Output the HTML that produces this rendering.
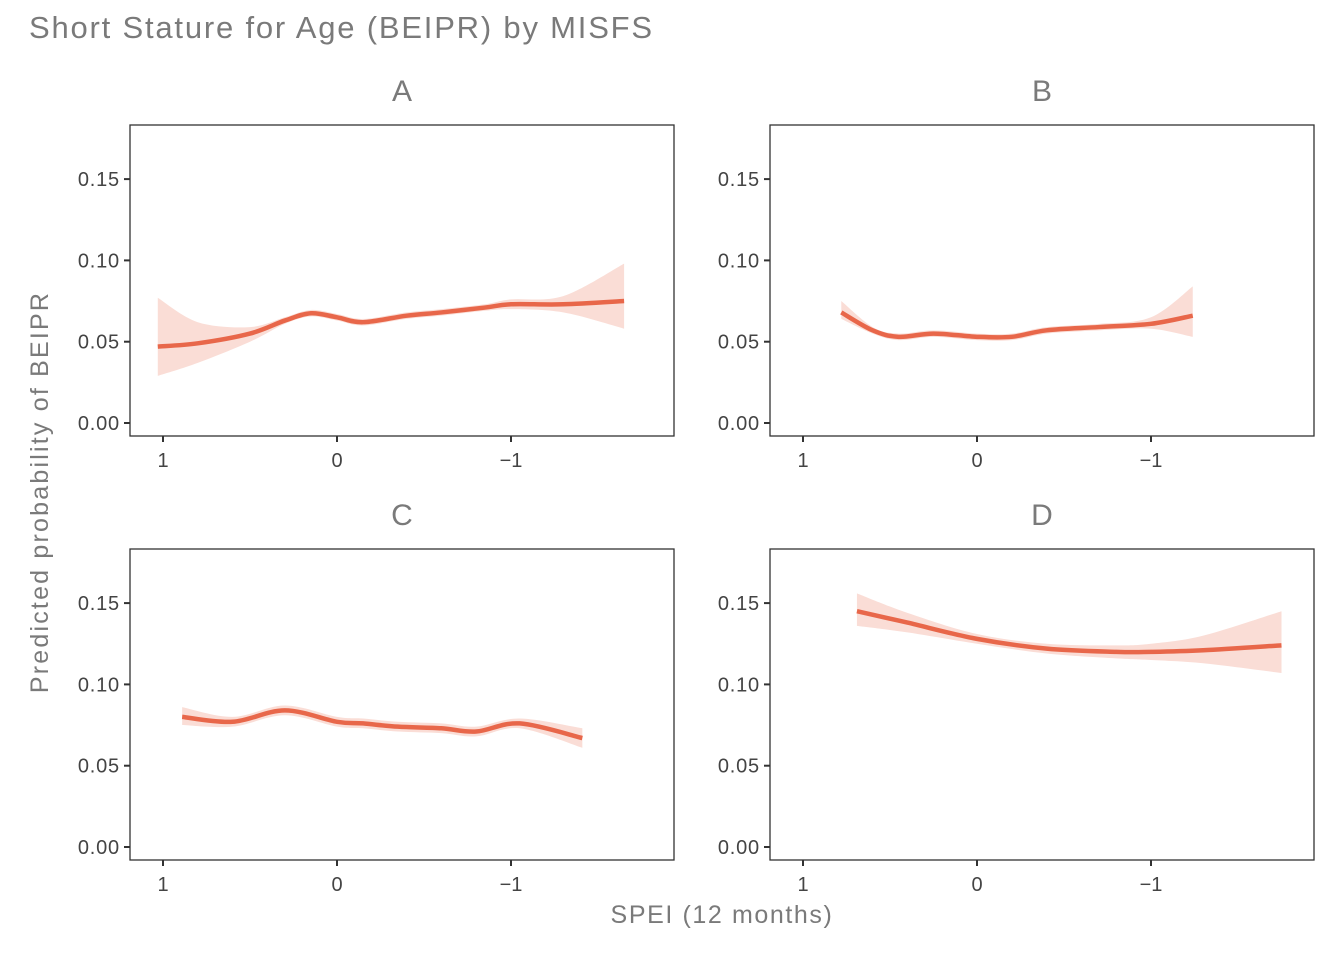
<!DOCTYPE html>
<html><head><meta charset="utf-8"><style>
body{margin:0;background:#fff;}
svg text{font-family:"Liberation Sans",sans-serif;}
</style></head><body>
<svg id="c" width="1344" height="960" xmlns="http://www.w3.org/2000/svg">
<text x="29" y="38" font-size="31" letter-spacing="1.8" fill="#7a7a7a">Short Stature for Age (BEIPR) by MISFS</text>
<text x="722" y="923" font-size="25" letter-spacing="1.6" fill="#7a7a7a" text-anchor="middle">SPEI (12 months)</text>
<text transform="translate(48,492) rotate(-90)" font-size="25" letter-spacing="2.2" fill="#7a7a7a" text-anchor="middle">Predicted probability of BEIPR</text>
</svg>
<script>
const panelNames=["A","B","C","D"];
const yTicks=[0,0.05,0.10,0.15];
const yTickLabels=["0.00","0.05","0.10","0.15"];
const xTicks=[1,0,-1];
const xTickLabels=["1","0","\u22121"];
const speiA=[1.03,0.8,0.5,0.3,0.15,0,-0.15,-0.4,-0.6,-0.85,-1.0,-1.3,-1.65];
const fitA=[.047,.049,.055,.063,.0675,.065,.062,.066,.068,.071,.073,.073,.075];
const loA=[.029,.037,.050,.061,.0655,.063,.060,.064,.066,.069,.070,.068,.058];
const hiA=[.077,.062,.059,.065,.0695,.067,.064,.068,.070,.073,.076,.078,.098];
const speiB=[0.78,0.6,0.45,0.25,0,-0.2,-0.4,-0.7,-1.0,-1.24];
const fitB=[.068,.057,.053,.055,.053,.053,.057,.059,.061,.066];
const loB=[.064,.055,.051,.053,.051,.051,.055,.057,.058,.053];
const hiB=[.075,.059,.055,.057,.055,.055,.059,.061,.065,.084];
const speiC=[0.89,0.6,0.3,0,-0.15,-0.35,-0.6,-0.8,-1.05,-1.41];
const fitC=[.080,.077,.084,.077,.076,.074,.073,.071,.076,.067];
const loC=[.075,.074,.081,.074,.073,.071,.070,.068,.073,.061];
const hiC=[.086,.080,.087,.080,.079,.077,.076,.074,.079,.073];
const speiD=[.69,.4,0,-.4,-.8,-1.0,-1.3,-1.75];
const fitD=[.145,.138,.128,.122,.120,.120,.121,.124];
const loD=[.136,.132,.125,.119,.116,.115,.113,.107];
const hiD=[.156,.144,.131,.125,.124,.125,.130,.145];
const series=[[speiA,fitA,loA,hiA],[speiB,fitB,loB,hiB],[speiC,fitC,loC,hiC],[speiD,fitD,loD,hiD]];
const NS="http://www.w3.org/2000/svg";
const svg=document.getElementById('c');
function mk(t,a,p){const e=document.createElementNS(NS,t);for(const k in a)e.setAttribute(k,a[k]);(p||svg).appendChild(e);return e;}
function smooth(pts){let d="M"+pts[0][0]+","+pts[0][1];for(let i=0;i<pts.length-1;i++){const p0=pts[Math.max(0,i-1)],p1=pts[i],p2=pts[i+1],p3=pts[Math.min(pts.length-1,i+2)];d+=" C"+(p1[0]+(p2[0]-p0[0])/6)+","+(p1[1]+(p2[1]-p0[1])/6)+" "+(p2[0]-(p3[0]-p1[0])/6)+","+(p2[1]-(p3[1]-p1[1])/6)+" "+p2[0]+","+p2[1];}return d;}
const boxes=[[130,125],[770,125],[130,549],[770,549]];
boxes.forEach((b,i)=>{
  const [L,T]=b,W=544,H=311;
  const g=mk('g',{});
  
  
  const xs=v=>L+33+(1-v)*174;
  const ys=v=>T+298-v/0.05*81.3;
  const st=mk('text',{x:L+272,y:T-24,'font-size':30,fill:'#7a7a7a','text-anchor':'middle'},g);
  
  
  st.textContent=panelNames[i];
  const [s,f,lo,hi]=series[i];
  const up=s.map((v,k)=>[xs(v),ys(hi[k])]);
  const dn=s.map((v,k)=>[xs(v),ys(lo[k])]).reverse();
  const band=mk('path',{d:smooth(up)+" L"+dn[0][0]+","+dn[0][1]+smooth(dn).replace(/^M[^ ]+/,"")+"Z",fill:'#FADDD6'},g);
  
  
  const ln=mk('path',{d:smooth(s.map((v,k)=>[xs(v),ys(f[k])])),fill:'none',stroke:'#E8674A','stroke-width':4.5,'stroke-linecap':'butt'},g);
  
  
  const fr=mk('rect',{x:L,y:T,width:W,height:H,fill:'none',stroke:'#333','stroke-width':1.3},g);
  
  
  yTicks.forEach((v,k)=>{const y=ys(v);mk('line',{x1:L-6,x2:L,y1:y,y2:y,stroke:'#333','stroke-width':2},g);
    const t=mk('text',{x:L-10,y:y+7,'font-size':20,'letter-spacing':0.8,fill:'#444','text-anchor':'end'},g);
    
    
    t.textContent=yTickLabels[k];});
  xTicks.forEach((v,k)=>{const x=xs(v);mk('line',{x1:x,x2:x,y1:T+H,y2:T+H+6,stroke:'#333','stroke-width':2},g);
    const t=mk('text',{x:x,y:T+H+31,'font-size':20,fill:'#444','text-anchor':'middle'},g);
    
    
    t.textContent=xTickLabels[k];});
});
</script>
</body></html>
